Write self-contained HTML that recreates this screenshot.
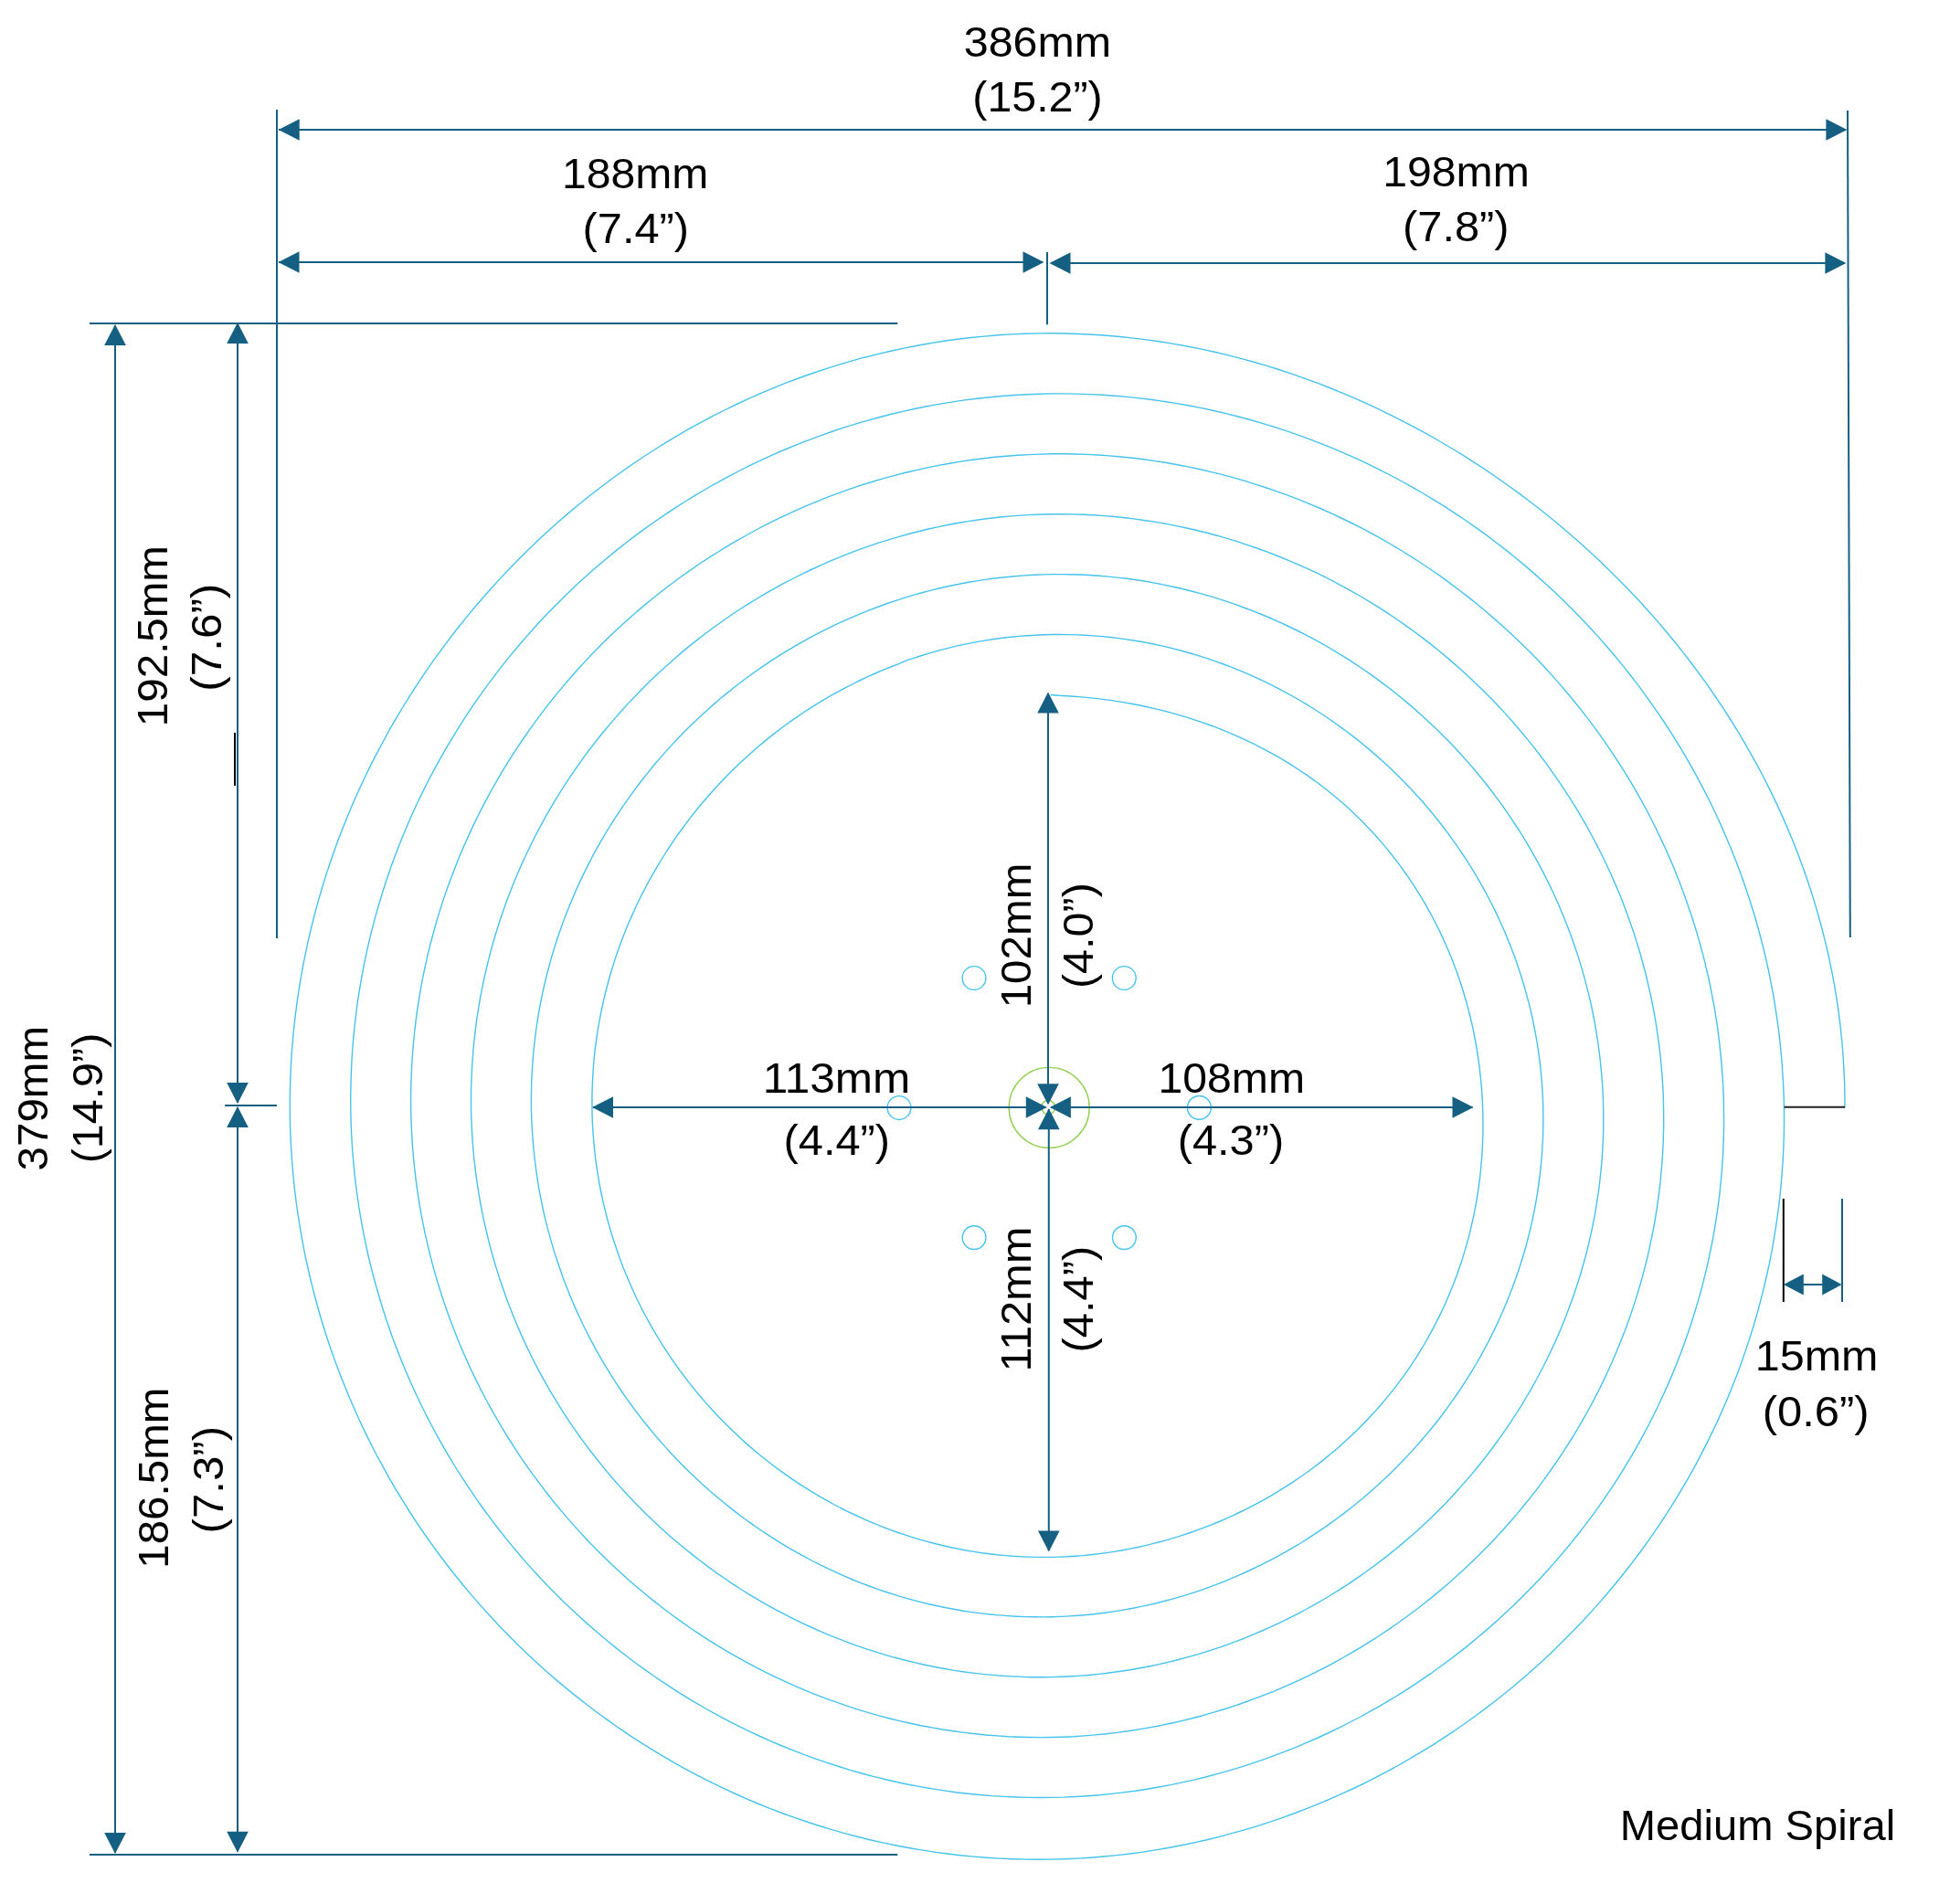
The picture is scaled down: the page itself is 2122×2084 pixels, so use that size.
<!DOCTYPE html>
<html><head><meta charset="utf-8"><title>Medium Spiral</title>
<style>
html,body{margin:0;padding:0;background:#fff;}
body{width:2122px;height:2084px;overflow:hidden;}
svg{display:block;will-change:transform;}
text{font-family:"Liberation Sans",sans-serif;fill:#000;}
</style></head><body>
<svg width="2122" height="2084" viewBox="0 0 2122 2084">
<rect width="2122" height="2084" fill="#fff"/>
<path d="M 1149.6 760.5 L 1159.3 761.3 L 1167.3 761.7 L 1175.2 762.2 L 1183.1 762.9 L 1191.0 763.6 L 1198.8 764.4 L 1206.7 765.4 L 1214.6 766.4 L 1222.4 767.6 L 1230.2 768.9 L 1238.0 770.2 L 1245.8 771.7 L 1253.5 773.3 L 1261.3 775.1 L 1269.0 776.9 L 1276.7 778.8 L 1284.3 780.9 L 1292.0 783.1 L 1299.6 785.4 L 1307.1 787.8 L 1314.7 790.3 L 1322.2 793.0 L 1329.6 795.7 L 1337.1 798.6 L 1344.4 801.7 L 1351.8 804.8 L 1359.1 808.1 L 1366.3 811.4 L 1373.5 814.9 L 1380.6 818.6 L 1387.7 822.3 L 1394.7 826.2 L 1401.7 830.2 L 1408.6 834.3 L 1415.4 838.6 L 1422.1 843.0 L 1428.8 847.4 L 1435.4 852.1 L 1441.9 856.8 L 1448.3 861.7 L 1454.7 866.7 L 1460.9 871.8 L 1467.1 877.0 L 1473.2 882.3 L 1479.1 887.8 L 1485.0 893.4 L 1490.8 899.1 L 1496.4 904.9 L 1501.9 910.8 L 1507.4 916.8 L 1512.7 922.9 L 1517.9 929.1 L 1523.0 935.5 L 1528.0 941.9 L 1532.9 948.4 L 1537.6 955.0 L 1542.3 961.7 L 1546.8 968.4 L 1551.2 975.3 L 1555.4 982.2 L 1559.6 989.2 L 1563.6 996.3 L 1567.5 1003.5 L 1571.2 1010.7 L 1574.9 1018.0 L 1578.4 1025.4 L 1581.7 1032.8 L 1585.0 1040.3 L 1588.1 1047.8 L 1591.1 1055.4 L 1594.0 1063.1 L 1596.7 1070.8 L 1599.3 1078.5 L 1601.7 1086.3 L 1604.0 1094.2 L 1606.2 1102.1 L 1608.3 1110.0 L 1610.2 1118.0 L 1612.0 1125.9 L 1613.6 1134.0 L 1615.1 1142.0 L 1616.5 1150.1 L 1617.7 1158.2 L 1618.9 1166.3 L 1619.8 1174.5 L 1620.7 1182.7 L 1621.4 1190.9 L 1622.0 1199.1 L 1622.4 1207.3 L 1622.7 1215.5 L 1622.9 1223.7 L 1622.9 1232.0 L 1622.9 1240.2 L 1622.6 1248.5 L 1622.3 1256.7 L 1621.8 1264.9 L 1621.1 1273.2 L 1620.4 1281.4 L 1619.5 1289.6 L 1618.4 1297.9 L 1617.2 1306.1 L 1615.9 1314.3 L 1614.4 1322.4 L 1612.8 1330.6 L 1611.0 1338.7 L 1609.1 1346.8 L 1607.1 1354.9 L 1604.9 1362.9 L 1602.5 1370.9 L 1600.1 1378.9 L 1597.4 1386.8 L 1594.7 1394.7 L 1591.8 1402.5 L 1588.7 1410.3 L 1585.5 1418.0 L 1582.2 1425.7 L 1578.7 1433.3 L 1575.1 1440.9 L 1571.3 1448.4 L 1567.4 1455.8 L 1563.4 1463.2 L 1559.2 1470.5 L 1554.9 1477.7 L 1550.5 1484.9 L 1545.9 1491.9 L 1541.2 1498.9 L 1536.3 1505.8 L 1531.3 1512.6 L 1526.2 1519.3 L 1521.0 1525.9 L 1515.6 1532.4 L 1510.2 1538.8 L 1504.6 1545.1 L 1498.8 1551.3 L 1493.0 1557.4 L 1487.1 1563.4 L 1481.0 1569.3 L 1474.9 1575.1 L 1468.6 1580.8 L 1462.3 1586.4 L 1455.8 1591.8 L 1449.2 1597.1 L 1442.6 1602.4 L 1435.8 1607.5 L 1429.0 1612.5 L 1422.1 1617.3 L 1415.1 1622.1 L 1408.0 1626.7 L 1400.8 1631.2 L 1393.6 1635.6 L 1386.3 1639.8 L 1378.9 1643.9 L 1371.4 1647.9 L 1363.8 1651.8 L 1356.2 1655.5 L 1348.6 1659.2 L 1340.8 1662.6 L 1333.0 1666.0 L 1325.2 1669.2 L 1317.3 1672.2 L 1309.3 1675.2 L 1301.3 1678.0 L 1293.2 1680.7 L 1285.1 1683.2 L 1277.0 1685.6 L 1268.8 1687.8 L 1260.6 1689.9 L 1252.3 1691.9 L 1244.0 1693.7 L 1235.7 1695.4 L 1227.3 1697.0 L 1218.9 1698.4 L 1210.5 1699.6 L 1202.0 1700.8 L 1193.6 1701.7 L 1185.1 1702.6 L 1176.6 1703.2 L 1168.1 1703.8 L 1159.6 1704.1 L 1151.1 1704.4 L 1142.5 1704.4 L 1134.0 1704.4 L 1125.5 1704.1 L 1116.9 1703.8 L 1108.4 1703.3 L 1099.9 1702.6 L 1091.4 1701.8 L 1082.9 1700.8 L 1074.4 1699.7 L 1065.9 1698.4 L 1057.5 1697.0 L 1049.1 1695.4 L 1040.7 1693.7 L 1032.4 1691.8 L 1024.0 1689.8 L 1015.8 1687.6 L 1007.5 1685.3 L 999.3 1682.8 L 991.1 1680.2 L 983.0 1677.5 L 974.9 1674.6 L 966.9 1671.6 L 958.9 1668.4 L 951.0 1665.1 L 943.2 1661.6 L 935.4 1658.0 L 927.6 1654.3 L 919.9 1650.5 L 912.3 1646.5 L 904.8 1642.3 L 897.3 1638.1 L 889.9 1633.7 L 882.6 1629.2 L 875.4 1624.6 L 868.2 1619.8 L 861.1 1614.9 L 854.1 1609.9 L 847.2 1604.8 L 840.4 1599.5 L 833.6 1594.2 L 827.0 1588.7 L 820.4 1583.1 L 813.9 1577.4 L 807.6 1571.5 L 801.3 1565.6 L 795.1 1559.6 L 789.1 1553.4 L 783.1 1547.2 L 777.3 1540.8 L 771.5 1534.4 L 765.9 1527.8 L 760.3 1521.1 L 754.9 1514.4 L 749.6 1507.5 L 744.4 1500.6 L 739.4 1493.6 L 734.4 1486.4 L 729.6 1479.2 L 724.9 1471.9 L 720.4 1464.6 L 715.9 1457.1 L 711.6 1449.6 L 707.4 1442.0 L 703.3 1434.3 L 699.4 1426.5 L 695.6 1418.7 L 692.0 1410.8 L 688.5 1402.8 L 685.1 1394.8 L 681.8 1386.7 L 678.7 1378.5 L 675.8 1370.3 L 673.0 1362.1 L 670.3 1353.8 L 667.8 1345.4 L 665.4 1337.0 L 663.2 1328.5 L 661.1 1320.1 L 659.2 1311.5 L 657.4 1303.0 L 655.7 1294.4 L 654.3 1285.7 L 652.9 1277.1 L 651.8 1268.4 L 650.8 1259.7 L 649.9 1250.9 L 649.2 1242.2 L 648.6 1233.4 L 648.2 1224.7 L 648.0 1215.9 L 647.9 1207.1 L 648.0 1198.3 L 648.2 1189.5 L 648.6 1180.7 L 649.1 1172.0 L 649.8 1163.2 L 650.6 1154.4 L 651.6 1145.7 L 652.8 1136.9 L 654.1 1128.2 L 655.6 1119.5 L 657.2 1110.9 L 659.0 1102.2 L 660.9 1093.6 L 662.9 1085.0 L 665.2 1076.5 L 667.5 1068.0 L 670.1 1059.5 L 672.7 1051.1 L 675.5 1042.7 L 678.5 1034.4 L 681.6 1026.1 L 684.8 1017.9 L 688.2 1009.7 L 691.8 1001.6 L 695.4 993.5 L 699.2 985.5 L 703.2 977.6 L 707.3 969.7 L 711.5 961.9 L 715.9 954.2 L 720.4 946.6 L 725.0 939.0 L 729.7 931.5 L 734.6 924.1 L 739.6 916.7 L 744.8 909.5 L 750.0 902.3 L 755.4 895.2 L 760.9 888.2 L 766.5 881.3 L 772.3 874.5 L 778.2 867.8 L 784.1 861.2 L 790.2 854.7 L 796.4 848.3 L 802.8 842.0 L 809.2 835.8 L 815.7 829.7 L 822.4 823.7 L 829.1 817.8 L 836.0 812.1 L 842.9 806.4 L 850.0 800.9 L 857.1 795.5 L 864.3 790.2 L 871.7 785.1 L 879.1 780.0 L 886.6 775.1 L 894.2 770.4 L 901.9 765.7 L 909.7 761.2 L 917.6 756.8 L 925.5 752.6 L 933.5 748.5 L 941.6 744.5 L 949.7 740.7 L 958.0 737.0 L 966.3 733.4 L 974.6 730.0 L 983.1 726.8 L 991.4 723.2 L 999.9 720.3 L 1008.6 717.5 L 1017.2 714.9 L 1025.9 712.4 L 1034.7 710.1 L 1043.5 707.9 L 1052.3 705.9 L 1061.2 704.1 L 1070.1 702.4 L 1079.1 700.9 L 1088.1 699.5 L 1097.1 698.3 L 1106.1 697.3 L 1115.1 696.4 L 1124.2 695.7 L 1133.3 695.2 L 1142.4 694.8 L 1151.4 694.5 L 1160.5 694.5 L 1169.6 694.6 L 1178.7 694.9 L 1187.8 695.3 L 1196.9 695.9 L 1206.0 696.6 L 1215.1 697.5 L 1224.1 698.6 L 1233.1 699.9 L 1242.1 701.2 L 1251.1 702.8 L 1260.1 704.5 L 1269.0 706.4 L 1277.9 708.4 L 1286.8 710.6 L 1295.6 713.0 L 1304.4 715.5 L 1313.1 718.1 L 1321.8 720.9 L 1330.4 723.9 L 1339.0 727.0 L 1347.5 730.2 L 1356.0 733.6 L 1364.4 737.2 L 1372.8 740.9 L 1381.1 744.7 L 1389.3 748.7 L 1397.5 752.8 L 1405.6 757.1 L 1413.6 761.5 L 1421.5 766.0 L 1429.4 770.7 L 1437.2 775.5 L 1444.9 780.5 L 1452.5 785.5 L 1460.1 790.7 L 1467.5 796.1 L 1474.9 801.5 L 1482.2 807.1 L 1489.4 812.8 L 1496.5 818.6 L 1503.4 824.6 L 1510.3 830.6 L 1517.1 836.8 L 1523.8 843.1 L 1530.4 849.5 L 1536.9 856.0 L 1543.3 862.7 L 1549.5 869.4 L 1555.7 876.3 L 1561.7 883.2 L 1567.6 890.3 L 1573.4 897.5 L 1579.1 904.7 L 1584.7 912.1 L 1590.1 919.6 L 1595.4 927.1 L 1600.6 934.8 L 1605.7 942.5 L 1610.6 950.3 L 1615.4 958.3 L 1620.1 966.3 L 1624.6 974.4 L 1628.9 982.5 L 1633.2 990.8 L 1637.3 999.1 L 1641.2 1007.5 L 1645.0 1016.0 L 1648.7 1024.6 L 1652.2 1033.2 L 1655.6 1041.9 L 1658.8 1050.6 L 1661.8 1059.4 L 1664.7 1068.3 L 1667.4 1077.2 L 1670.0 1086.1 L 1672.4 1095.2 L 1674.7 1104.2 L 1676.8 1113.3 L 1678.7 1122.5 L 1680.5 1131.7 L 1682.1 1140.9 L 1683.5 1150.1 L 1684.8 1159.4 L 1685.9 1168.7 L 1686.8 1178.0 L 1687.6 1187.4 L 1688.1 1196.7 L 1688.6 1206.1 L 1688.8 1215.5 L 1688.9 1224.8 L 1688.8 1234.2 L 1688.6 1243.6 L 1688.1 1253.0 L 1687.5 1262.4 L 1686.8 1271.7 L 1685.8 1281.1 L 1684.7 1290.4 L 1683.4 1299.8 L 1682.0 1309.1 L 1680.4 1318.3 L 1678.6 1327.6 L 1676.7 1336.8 L 1674.6 1346.0 L 1672.3 1355.1 L 1669.9 1364.2 L 1667.3 1373.2 L 1664.5 1382.3 L 1661.6 1391.2 L 1658.5 1400.1 L 1655.3 1409.0 L 1651.9 1417.8 L 1648.4 1426.5 L 1644.7 1435.2 L 1640.9 1443.8 L 1636.9 1452.4 L 1632.7 1460.9 L 1628.5 1469.3 L 1624.0 1477.6 L 1619.5 1485.9 L 1614.8 1494.0 L 1609.9 1502.2 L 1604.9 1510.2 L 1599.8 1518.1 L 1594.5 1526.0 L 1589.1 1533.7 L 1583.6 1541.4 L 1578.0 1549.0 L 1572.2 1556.5 L 1566.3 1563.8 L 1560.2 1571.1 L 1554.1 1578.3 L 1547.8 1585.4 L 1541.4 1592.4 L 1534.9 1599.3 L 1528.2 1606.0 L 1521.5 1612.7 L 1514.6 1619.3 L 1507.6 1625.7 L 1500.6 1632.0 L 1493.4 1638.2 L 1486.1 1644.3 L 1478.7 1650.3 L 1471.2 1656.1 L 1463.6 1661.8 L 1455.9 1667.4 L 1448.1 1672.9 L 1440.2 1678.2 L 1432.2 1683.4 L 1424.1 1688.5 L 1415.9 1693.4 L 1407.7 1698.2 L 1399.3 1702.8 L 1390.9 1707.3 L 1382.4 1711.7 L 1373.8 1715.9 L 1365.2 1720.0 L 1356.4 1723.9 L 1347.6 1727.7 L 1338.8 1731.3 L 1329.8 1734.8 L 1320.8 1738.1 L 1311.8 1741.3 L 1302.6 1744.3 L 1293.5 1747.1 L 1284.2 1749.8 L 1274.9 1752.3 L 1265.6 1754.7 L 1256.2 1756.9 L 1246.8 1758.9 L 1237.4 1760.7 L 1227.9 1762.4 L 1218.4 1763.9 L 1208.8 1765.3 L 1199.2 1766.5 L 1189.6 1767.5 L 1180.0 1768.3 L 1170.4 1768.9 L 1160.7 1769.4 L 1151.0 1769.7 L 1141.4 1769.9 L 1131.7 1769.8 L 1122.0 1769.6 L 1112.3 1769.2 L 1102.7 1768.6 L 1093.0 1767.9 L 1083.3 1767.0 L 1073.7 1765.9 L 1064.1 1764.6 L 1054.5 1763.2 L 1044.9 1761.5 L 1035.4 1759.8 L 1025.9 1757.8 L 1016.4 1755.7 L 1007.0 1753.4 L 997.6 1750.9 L 988.2 1748.3 L 978.9 1745.4 L 969.7 1742.5 L 960.5 1739.3 L 951.3 1736.0 L 942.2 1732.6 L 933.2 1729.0 L 924.2 1725.2 L 915.3 1721.2 L 906.5 1717.1 L 897.8 1712.9 L 889.1 1708.5 L 880.5 1703.9 L 871.9 1699.2 L 863.5 1694.4 L 855.1 1689.4 L 846.9 1684.2 L 838.7 1678.9 L 830.6 1673.5 L 822.6 1667.9 L 814.7 1662.2 L 806.9 1656.4 L 799.2 1650.4 L 791.6 1644.3 L 784.1 1638.0 L 776.7 1631.7 L 769.4 1625.2 L 762.2 1618.5 L 755.1 1611.8 L 748.2 1604.9 L 741.3 1598.0 L 734.6 1590.8 L 728.0 1583.6 L 721.5 1576.3 L 715.2 1568.9 L 708.9 1561.3 L 702.8 1553.7 L 696.9 1545.9 L 691.0 1538.0 L 685.3 1530.1 L 679.7 1522.0 L 674.3 1513.8 L 669.0 1505.6 L 663.8 1497.2 L 658.8 1488.8 L 653.9 1480.3 L 649.2 1471.6 L 644.6 1462.9 L 640.2 1454.2 L 635.9 1445.3 L 631.7 1436.4 L 627.7 1427.4 L 623.9 1418.3 L 620.2 1409.1 L 616.7 1399.9 L 613.4 1390.6 L 610.2 1381.3 L 607.1 1371.9 L 604.3 1362.4 L 601.6 1352.9 L 599.0 1343.4 L 596.6 1333.8 L 594.4 1324.1 L 592.4 1314.4 L 590.5 1304.7 L 588.8 1294.9 L 587.3 1285.1 L 586.0 1275.3 L 584.8 1265.5 L 583.8 1255.6 L 583.0 1245.7 L 582.3 1235.8 L 581.8 1225.8 L 581.5 1215.9 L 581.4 1206.0 L 581.5 1196.0 L 581.7 1186.1 L 582.1 1176.1 L 582.7 1166.2 L 583.5 1156.2 L 584.4 1146.3 L 585.5 1136.4 L 586.8 1126.5 L 588.3 1116.6 L 589.9 1106.8 L 591.7 1097.0 L 593.7 1087.2 L 595.9 1077.4 L 598.2 1067.7 L 600.8 1058.0 L 603.4 1048.4 L 606.3 1038.8 L 609.3 1029.3 L 612.5 1019.8 L 615.8 1010.4 L 619.4 1001.0 L 623.1 991.7 L 626.9 982.4 L 630.9 973.2 L 635.1 964.1 L 639.4 955.1 L 643.9 946.1 L 648.5 937.2 L 653.3 928.4 L 658.3 919.6 L 663.4 911.0 L 668.7 902.4 L 674.1 893.9 L 679.6 885.6 L 685.3 877.3 L 691.2 869.1 L 697.1 861.0 L 703.3 853.0 L 709.5 845.1 L 715.9 837.3 L 722.4 829.6 L 729.1 822.1 L 735.9 814.6 L 742.8 807.3 L 749.9 800.1 L 757.1 793.0 L 764.4 786.0 L 771.8 779.2 L 779.3 772.4 L 787.0 765.8 L 794.8 759.4 L 802.7 753.0 L 810.7 746.8 L 818.8 740.8 L 827.0 734.8 L 835.3 729.1 L 843.7 723.4 L 852.3 717.9 L 860.9 712.6 L 869.6 707.4 L 878.4 702.3 L 887.3 697.4 L 896.3 692.7 L 905.4 688.1 L 914.5 683.7 L 923.8 679.4 L 933.1 675.3 L 942.5 671.4 L 951.9 667.6 L 961.5 664.0 L 971.0 660.5 L 980.7 657.3 L 990.4 654.2 L 1000.2 651.2 L 1010.0 648.5 L 1019.9 645.9 L 1029.8 643.5 L 1039.8 641.3 L 1049.8 639.2 L 1059.9 637.3 L 1069.9 635.6 L 1080.1 634.1 L 1090.2 632.8 L 1100.4 631.7 L 1110.6 630.7 L 1120.8 629.9 L 1131.0 629.3 L 1141.2 628.9 L 1151.5 628.6 L 1161.7 628.6 L 1172.0 628.7 L 1182.2 629.0 L 1192.5 629.5 L 1202.7 630.2 L 1212.9 631.1 L 1223.1 632.1 L 1233.3 633.3 L 1243.5 634.8 L 1253.6 636.3 L 1263.7 638.1 L 1273.8 640.1 L 1283.9 642.2 L 1293.9 644.5 L 1303.8 647.0 L 1313.8 649.6 L 1323.6 652.4 L 1333.5 655.4 L 1343.3 658.6 L 1353.0 661.9 L 1362.6 665.5 L 1372.2 669.1 L 1381.8 673.0 L 1391.3 677.0 L 1400.7 681.2 L 1410.0 685.5 L 1419.3 690.0 L 1428.4 694.6 L 1437.5 699.4 L 1446.6 704.4 L 1455.5 709.5 L 1464.3 714.8 L 1473.1 720.2 L 1481.8 725.8 L 1490.4 731.5 L 1498.8 737.4 L 1507.2 743.4 L 1515.5 749.6 L 1523.7 755.8 L 1531.7 762.3 L 1539.7 768.9 L 1547.6 775.6 L 1555.3 782.4 L 1562.9 789.4 L 1570.5 796.5 L 1577.8 803.7 L 1585.1 811.1 L 1592.3 818.6 L 1599.3 826.2 L 1606.2 833.9 L 1613.0 841.7 L 1619.6 849.7 L 1626.1 857.8 L 1632.5 866.0 L 1638.7 874.3 L 1644.8 882.7 L 1650.7 891.2 L 1656.5 899.8 L 1662.2 908.5 L 1667.7 917.4 L 1673.1 926.3 L 1678.3 935.3 L 1683.3 944.4 L 1688.2 953.6 L 1692.9 962.9 L 1697.5 972.3 L 1701.9 981.8 L 1706.2 991.3 L 1710.2 1000.9 L 1714.1 1010.6 L 1717.9 1020.4 L 1721.4 1030.2 L 1724.8 1040.1 L 1728.1 1050.1 L 1731.1 1060.1 L 1734.0 1070.2 L 1736.6 1080.3 L 1739.2 1090.5 L 1741.5 1100.7 L 1743.6 1111.0 L 1745.6 1121.3 L 1747.3 1131.7 L 1748.9 1142.1 L 1750.3 1152.5 L 1751.5 1162.9 L 1752.5 1173.4 L 1753.4 1183.9 L 1754.0 1194.4 L 1754.5 1204.9 L 1754.7 1215.4 L 1754.8 1226.0 L 1754.7 1236.5 L 1754.4 1247.0 L 1753.9 1257.6 L 1753.2 1268.1 L 1752.3 1278.6 L 1751.2 1289.1 L 1750.0 1299.6 L 1748.5 1310.0 L 1746.9 1320.5 L 1745.1 1330.9 L 1743.1 1341.2 L 1740.9 1351.6 L 1738.5 1361.9 L 1736.0 1372.1 L 1733.2 1382.3 L 1730.3 1392.5 L 1727.2 1402.6 L 1723.9 1412.7 L 1720.5 1422.6 L 1716.8 1432.6 L 1713.0 1442.5 L 1709.1 1452.3 L 1704.9 1462.0 L 1700.6 1471.7 L 1696.1 1481.2 L 1691.5 1490.8 L 1686.6 1500.2 L 1681.7 1509.5 L 1676.5 1518.8 L 1671.2 1528.0 L 1665.8 1537.1 L 1660.2 1546.0 L 1654.4 1554.9 L 1648.5 1563.7 L 1642.4 1572.4 L 1636.2 1581.0 L 1629.9 1589.5 L 1623.4 1597.9 L 1616.7 1606.2 L 1609.9 1614.4 L 1603.0 1622.4 L 1596.0 1630.3 L 1588.8 1638.2 L 1581.5 1645.9 L 1574.0 1653.4 L 1566.4 1660.9 L 1558.7 1668.2 L 1550.9 1675.4 L 1542.9 1682.5 L 1534.8 1689.4 L 1526.6 1696.2 L 1518.3 1702.9 L 1509.9 1709.4 L 1501.3 1715.8 L 1492.7 1722.0 L 1483.9 1728.1 L 1475.1 1734.1 L 1466.1 1739.9 L 1457.0 1745.5 L 1447.9 1751.0 L 1438.6 1756.4 L 1429.2 1761.5 L 1419.8 1766.6 L 1410.2 1771.4 L 1400.6 1776.1 L 1390.9 1780.7 L 1381.1 1785.0 L 1371.2 1789.2 L 1361.3 1793.3 L 1351.3 1797.1 L 1341.2 1800.8 L 1331.0 1804.3 L 1320.8 1807.6 L 1310.5 1810.8 L 1300.2 1813.7 L 1289.8 1816.5 L 1279.3 1819.1 L 1268.8 1821.6 L 1258.2 1823.8 L 1247.7 1825.8 L 1237.0 1827.7 L 1226.4 1829.3 L 1215.7 1830.8 L 1204.9 1832.1 L 1194.2 1833.2 L 1183.4 1834.1 L 1172.6 1834.8 L 1161.8 1835.3 L 1151.0 1835.6 L 1140.2 1835.7 L 1129.4 1835.7 L 1118.5 1835.4 L 1107.7 1834.9 L 1096.9 1834.3 L 1086.1 1833.4 L 1075.3 1832.4 L 1064.5 1831.1 L 1053.8 1829.7 L 1043.0 1828.1 L 1032.3 1826.2 L 1021.7 1824.2 L 1011.0 1822.0 L 1000.4 1819.6 L 989.9 1817.0 L 979.4 1814.3 L 968.9 1811.3 L 958.5 1808.1 L 948.2 1804.8 L 937.9 1801.3 L 927.7 1797.6 L 917.5 1793.7 L 907.4 1789.6 L 897.4 1785.4 L 887.5 1781.0 L 877.6 1776.4 L 867.8 1771.6 L 858.1 1766.7 L 848.5 1761.6 L 839.0 1756.3 L 829.5 1750.9 L 820.2 1745.3 L 810.9 1739.5 L 801.8 1733.6 L 792.8 1727.5 L 783.8 1721.3 L 775.0 1714.9 L 766.3 1708.3 L 757.7 1701.6 L 749.2 1694.8 L 740.8 1687.8 L 732.5 1680.7 L 724.4 1673.4 L 716.4 1666.0 L 708.5 1658.4 L 700.7 1650.7 L 693.1 1642.9 L 685.6 1635.0 L 678.2 1626.9 L 671.0 1618.7 L 663.9 1610.4 L 657.0 1601.9 L 650.2 1593.3 L 643.5 1584.7 L 637.0 1575.8 L 630.6 1566.9 L 624.4 1557.9 L 618.4 1548.8 L 612.5 1539.5 L 606.7 1530.2 L 601.1 1520.8 L 595.7 1511.2 L 590.4 1501.6 L 585.3 1491.9 L 580.4 1482.0 L 575.6 1472.1 L 571.0 1462.1 L 566.6 1452.1 L 562.4 1441.9 L 558.3 1431.7 L 554.4 1421.4 L 550.7 1411.0 L 547.1 1400.6 L 543.8 1390.1 L 540.6 1379.5 L 537.6 1368.9 L 534.8 1358.2 L 532.2 1347.5 L 529.7 1336.7 L 527.5 1325.9 L 525.4 1315.0 L 523.6 1304.1 L 521.9 1293.2 L 520.4 1282.2 L 519.1 1271.2 L 518.0 1260.2 L 517.2 1249.2 L 516.5 1238.1 L 515.9 1227.0 L 515.6 1215.9 L 515.5 1204.8 L 515.6 1193.7 L 515.9 1182.6 L 516.4 1171.5 L 517.1 1160.5 L 517.9 1149.4 L 519.0 1138.3 L 520.3 1127.3 L 521.7 1116.2 L 523.4 1105.2 L 525.2 1094.2 L 527.3 1083.3 L 529.5 1072.4 L 532.0 1061.5 L 534.6 1050.7 L 537.4 1039.9 L 540.4 1029.2 L 543.6 1018.5 L 547.0 1007.8 L 550.6 997.3 L 554.3 986.8 L 558.3 976.3 L 562.4 965.9 L 566.7 955.6 L 571.2 945.4 L 575.9 935.2 L 580.7 925.2 L 585.7 915.2 L 590.9 905.3 L 596.3 895.4 L 601.8 885.7 L 607.5 876.1 L 613.4 866.5 L 619.4 857.1 L 625.6 847.8 L 632.0 838.6 L 638.5 829.4 L 645.2 820.4 L 652.1 811.5 L 659.0 802.8 L 666.2 794.1 L 673.5 785.6 L 680.9 777.2 L 688.5 768.9 L 696.3 760.7 L 704.1 752.7 L 712.1 744.8 L 720.3 737.0 L 728.6 729.4 L 737.0 722.0 L 745.5 714.6 L 754.2 707.4 L 763.0 700.4 L 771.9 693.5 L 781.0 686.8 L 790.2 680.2 L 799.4 673.8 L 808.8 667.5 L 818.3 661.4 L 828.0 655.5 L 837.7 649.7 L 847.5 644.1 L 857.4 638.7 L 867.4 633.5 L 877.5 628.4 L 887.7 623.5 L 898.0 618.8 L 908.4 614.2 L 918.9 609.8 L 929.4 605.7 L 940.0 601.7 L 950.7 597.9 L 961.5 594.2 L 972.3 590.8 L 983.2 587.6 L 994.1 584.5 L 1005.1 581.7 L 1016.1 579.0 L 1027.2 576.6 L 1038.4 574.3 L 1049.6 572.2 L 1060.8 570.4 L 1072.0 568.7 L 1083.3 567.3 L 1094.6 566.0 L 1106.0 564.9 L 1117.3 564.1 L 1128.7 563.4 L 1140.1 563.0 L 1151.5 562.7 L 1162.9 562.7 L 1174.3 562.9 L 1185.7 563.2 L 1197.1 563.8 L 1208.5 564.6 L 1219.8 565.5 L 1231.2 566.7 L 1242.5 568.1 L 1253.8 569.7 L 1265.1 571.4 L 1276.3 573.4 L 1287.5 575.6 L 1298.7 578.0 L 1309.8 580.5 L 1320.9 583.3 L 1332.0 586.2 L 1342.9 589.4 L 1353.9 592.7 L 1364.7 596.3 L 1375.5 600.0 L 1386.3 603.9 L 1397.0 608.0 L 1407.6 612.3 L 1418.1 616.8 L 1428.5 621.4 L 1438.9 626.2 L 1449.2 631.2 L 1459.4 636.4 L 1469.5 641.8 L 1479.5 647.3 L 1489.5 653.0 L 1499.3 658.9 L 1509.0 664.9 L 1518.7 671.1 L 1528.2 677.5 L 1537.6 684.1 L 1546.9 690.8 L 1556.1 697.6 L 1565.2 704.6 L 1574.1 711.8 L 1583.0 719.1 L 1591.7 726.6 L 1600.3 734.2 L 1608.7 741.9 L 1617.1 749.9 L 1625.3 757.9 L 1633.3 766.1 L 1641.3 774.4 L 1649.1 782.9 L 1656.7 791.5 L 1664.2 800.2 L 1671.5 809.1 L 1678.8 818.1 L 1685.8 827.2 L 1692.7 836.4 L 1699.4 845.8 L 1706.0 855.3 L 1712.4 864.9 L 1718.7 874.6 L 1724.8 884.4 L 1730.7 894.3 L 1736.5 904.4 L 1742.0 914.5 L 1747.4 924.7 L 1752.7 935.0 L 1757.7 945.5 L 1762.6 956.0 L 1767.3 966.6 L 1771.8 977.3 L 1776.1 988.0 L 1780.2 998.9 L 1784.1 1009.8 L 1787.9 1020.8 L 1791.4 1031.9 L 1794.8 1043.0 L 1797.9 1054.2 L 1800.9 1065.5 L 1803.6 1076.8 L 1806.2 1088.1 L 1808.5 1099.5 L 1810.7 1111.0 L 1812.6 1122.5 L 1814.3 1134.0 L 1815.9 1145.6 L 1817.2 1157.2 L 1818.3 1168.8 L 1819.2 1180.4 L 1819.9 1192.1 L 1820.4 1203.7 L 1820.6 1215.4 L 1820.7 1227.1 L 1820.5 1238.8 L 1820.2 1250.5 L 1819.6 1262.1 L 1818.8 1273.8 L 1817.8 1285.5 L 1816.7 1297.1 L 1815.2 1308.7 L 1813.6 1320.3 L 1811.8 1331.9 L 1809.8 1343.4 L 1807.5 1354.9 L 1805.1 1366.4 L 1802.5 1377.8 L 1799.6 1389.2 L 1796.6 1400.5 L 1793.3 1411.7 L 1789.9 1422.9 L 1786.2 1434.1 L 1782.4 1445.2 L 1778.4 1456.2 L 1774.1 1467.1 L 1769.7 1478.0 L 1765.1 1488.8 L 1760.3 1499.5 L 1755.3 1510.1 L 1750.2 1520.7 L 1744.8 1531.1 L 1739.3 1541.5 L 1733.6 1551.7 L 1727.7 1561.9 L 1721.7 1572.0 L 1715.4 1581.9 L 1709.0 1591.8 L 1702.5 1601.5 L 1695.7 1611.2 L 1688.9 1620.7 L 1681.8 1630.1 L 1674.6 1639.4 L 1667.2 1648.5 L 1659.7 1657.6 L 1652.0 1666.5 L 1644.2 1675.3 L 1636.2 1683.9 L 1628.0 1692.4 L 1619.8 1700.8 L 1611.3 1709.1 L 1602.8 1717.2 L 1594.1 1725.1 L 1585.3 1733.0 L 1576.3 1740.6 L 1567.2 1748.1 L 1558.0 1755.5 L 1548.6 1762.7 L 1539.1 1769.8 L 1529.5 1776.7 L 1519.8 1783.4 L 1510.0 1790.0 L 1500.0 1796.4 L 1490.0 1802.6 L 1479.8 1808.7 L 1469.5 1814.5 L 1459.1 1820.3 L 1448.7 1825.8 L 1438.1 1831.2 L 1427.4 1836.3 L 1416.6 1841.3 L 1405.8 1846.1 L 1394.8 1850.8 L 1383.8 1855.2 L 1372.7 1859.4 L 1361.5 1863.5 L 1350.3 1867.3 L 1338.9 1871.0 L 1327.5 1874.4 L 1316.1 1877.7 L 1304.6 1880.7 L 1293.0 1883.6 L 1281.3 1886.2 L 1269.7 1888.7 L 1257.9 1890.9 L 1246.2 1892.9 L 1234.4 1894.8 L 1222.5 1896.4 L 1210.7 1897.8 L 1198.8 1898.9 L 1186.8 1899.9 L 1174.9 1900.7 L 1162.9 1901.2 L 1151.0 1901.5 L 1139.0 1901.6 L 1127.0 1901.5 L 1115.1 1901.2 L 1103.1 1900.7 L 1091.1 1899.9 L 1079.2 1899.0 L 1067.2 1897.8 L 1055.3 1896.4 L 1043.4 1894.8 L 1031.6 1893.0 L 1019.7 1890.9 L 1007.9 1888.7 L 996.2 1886.2 L 984.5 1883.6 L 972.8 1880.7 L 961.2 1877.6 L 949.6 1874.3 L 938.1 1870.8 L 926.7 1867.1 L 915.3 1863.2 L 904.0 1859.1 L 892.8 1854.8 L 881.7 1850.3 L 870.6 1845.6 L 859.6 1840.7 L 848.7 1835.6 L 837.9 1830.3 L 827.1 1824.9 L 816.5 1819.2 L 806.0 1813.4 L 795.6 1807.4 L 785.2 1801.2 L 775.0 1794.8 L 764.9 1788.2 L 754.9 1781.5 L 745.1 1774.6 L 735.3 1767.5 L 725.7 1760.3 L 716.2 1752.9 L 706.8 1745.3 L 697.5 1737.5 L 688.4 1729.7 L 679.4 1721.6 L 670.6 1713.4 L 661.9 1705.0 L 653.3 1696.5 L 644.9 1687.9 L 636.6 1679.1 L 628.5 1670.1 L 620.5 1661.1 L 612.7 1651.9 L 605.0 1642.5 L 597.5 1633.0 L 590.2 1623.4 L 583.0 1613.7 L 576.0 1603.8 L 569.1 1593.8 L 562.5 1583.7 L 556.0 1573.5 L 549.6 1563.2 L 543.5 1552.7 L 537.5 1542.2 L 531.7 1531.5 L 526.1 1520.8 L 520.7 1509.9 L 515.4 1499.0 L 510.4 1487.9 L 505.5 1476.8 L 500.8 1465.6 L 496.4 1454.3 L 492.1 1442.9 L 488.0 1431.4 L 484.1 1419.9 L 480.4 1408.3 L 476.9 1396.6 L 473.6 1384.9 L 470.6 1373.1 L 467.7 1361.2 L 465.0 1349.3 L 462.6 1337.4 L 460.3 1325.4 L 458.3 1313.3 L 456.5 1301.3 L 454.9 1289.1 L 453.5 1277.0 L 452.3 1264.8 L 451.3 1252.6 L 450.6 1240.4 L 450.1 1228.2 L 449.7 1216.0 L 449.6 1203.7 L 449.7 1191.5 L 450.1 1179.2 L 450.6 1167.0 L 451.4 1154.7 L 452.4 1142.5 L 453.6 1130.3 L 455.0 1118.1 L 456.6 1105.9 L 458.5 1093.8 L 460.5 1081.7 L 462.8 1069.6 L 465.3 1057.6 L 468.0 1045.6 L 470.9 1033.7 L 474.1 1021.8 L 477.4 1009.9 L 480.9 998.1 L 484.7 986.4 L 488.6 974.8 L 492.8 963.2 L 497.2 951.7 L 501.7 940.2 L 506.5 928.8 L 511.5 917.6 L 516.6 906.4 L 522.0 895.3 L 527.5 884.2 L 533.3 873.3 L 539.2 862.5 L 545.3 851.8 L 551.6 841.2 L 558.1 830.7 L 564.8 820.3 L 571.7 810.0 L 578.7 799.8 L 585.9 789.8 L 593.3 779.9 L 600.8 770.1 L 608.6 760.4 L 616.5 750.9 L 624.5 741.5 L 632.7 732.2 L 641.1 723.1 L 649.7 714.1 L 658.4 705.3 L 667.2 696.6 L 676.2 688.1 L 685.4 679.7 L 694.6 671.5 L 704.1 663.4 L 713.7 655.5 L 723.4 647.8 L 733.2 640.2 L 743.2 632.8 L 753.3 625.6 L 763.6 618.5 L 773.9 611.7 L 784.4 605.0 L 795.0 598.4 L 805.7 592.1 L 816.6 586.0 L 827.5 580.0 L 838.6 574.2 L 849.7 568.7 L 861.0 563.3 L 872.3 558.1 L 883.7 553.1 L 895.3 548.3 L 906.9 543.7 L 918.6 539.4 L 930.4 535.2 L 942.2 531.2 L 954.1 527.5 L 966.1 523.9 L 978.2 520.6 L 990.3 517.5 L 1002.5 514.6 L 1014.7 511.9 L 1027.0 509.4 L 1039.3 507.2 L 1051.6 505.1 L 1064.0 503.3 L 1076.5 501.7 L 1088.9 500.3 L 1101.4 499.2 L 1113.9 498.3 L 1126.4 497.6 L 1139.0 497.1 L 1151.5 496.8 L 1164.1 496.8 L 1176.6 497.0 L 1189.2 497.4 L 1201.7 498.0 L 1214.2 498.9 L 1226.7 500.0 L 1239.2 501.3 L 1251.7 502.8 L 1264.1 504.6 L 1276.6 506.5 L 1288.9 508.7 L 1301.3 511.1 L 1313.6 513.7 L 1325.8 516.6 L 1338.0 519.6 L 1350.1 522.9 L 1362.2 526.4 L 1374.3 530.1 L 1386.2 534.0 L 1398.1 538.1 L 1409.9 542.4 L 1421.7 546.9 L 1433.3 551.6 L 1444.9 556.5 L 1456.4 561.7 L 1467.8 567.0 L 1479.1 572.5 L 1490.4 578.2 L 1501.5 584.1 L 1512.5 590.2 L 1523.4 596.5 L 1534.2 603.0 L 1544.9 609.7 L 1555.5 616.5 L 1566.0 623.5 L 1576.4 630.7 L 1586.6 638.1 L 1596.7 645.7 L 1606.7 653.4 L 1616.5 661.3 L 1626.2 669.3 L 1635.8 677.6 L 1645.2 686.0 L 1654.5 694.5 L 1663.7 703.2 L 1672.7 712.1 L 1681.6 721.1 L 1690.3 730.3 L 1698.8 739.6 L 1707.2 749.1 L 1715.4 758.7 L 1723.5 768.5 L 1731.4 778.4 L 1739.1 788.4 L 1746.7 798.6 L 1754.1 808.9 L 1761.3 819.4 L 1768.3 829.9 L 1775.2 840.6 L 1781.9 851.4 L 1788.4 862.3 L 1794.7 873.4 L 1800.8 884.5 L 1806.7 895.8 L 1812.4 907.2 L 1817.9 918.6 L 1823.3 930.2 L 1828.4 941.9 L 1833.3 953.6 L 1838.0 965.5 L 1842.5 977.4 L 1846.8 989.4 L 1850.9 1001.5 L 1854.8 1013.7 L 1858.4 1025.9 L 1861.9 1038.2 L 1865.1 1050.6 L 1868.1 1063.0 L 1870.9 1075.5 L 1873.4 1088.1 L 1875.8 1100.6 L 1877.9 1113.3 L 1879.8 1125.9 L 1881.4 1138.6 L 1882.8 1151.4 L 1884.0 1164.1 L 1885.0 1176.9 L 1885.8 1189.7 L 1886.3 1202.6 L 1886.5 1215.4 L 1886.6 1228.2 L 1886.4 1241.1 L 1886.0 1253.9 L 1885.4 1266.7 L 1884.5 1279.5 L 1883.4 1292.3 L 1882.1 1305.1 L 1880.5 1317.9 L 1878.7 1330.6 L 1876.7 1343.3 L 1874.5 1356.0 L 1872.0 1368.6 L 1869.3 1381.2 L 1866.4 1393.7 L 1863.3 1406.2 L 1859.9 1418.6 L 1856.3 1431.0 L 1852.5 1443.3 L 1848.5 1455.5 L 1844.3 1467.7 L 1839.9 1479.8 L 1835.2 1491.8 L 1830.4 1503.7 L 1825.3 1515.6 L 1820.0 1527.3 L 1814.6 1539.0 L 1808.9 1550.5 L 1803.0 1562.0 L 1796.9 1573.4 L 1790.7 1584.7 L 1784.2 1595.8 L 1777.5 1606.9 L 1770.7 1617.8 L 1763.7 1628.6 L 1756.4 1639.3 L 1749.1 1649.9 L 1741.5 1660.3 L 1733.7 1670.6 L 1725.8 1680.8 L 1717.7 1690.9 L 1709.4 1700.8 L 1701.0 1710.6 L 1692.3 1720.2 L 1683.6 1729.7 L 1674.6 1739.0 L 1665.5 1748.2 L 1656.3 1757.3 L 1646.9 1766.1 L 1637.3 1774.9 L 1627.6 1783.4 L 1617.7 1791.8 L 1607.7 1800.1 L 1597.6 1808.1 L 1587.3 1816.0 L 1576.9 1823.7 L 1566.4 1831.3 L 1555.7 1838.6 L 1544.9 1845.8 L 1534.0 1852.8 L 1522.9 1859.7 L 1511.7 1866.3 L 1500.4 1872.7 L 1489.0 1879.0 L 1477.5 1885.0 L 1465.9 1890.9 L 1454.2 1896.5 L 1442.4 1902.0 L 1430.4 1907.2 L 1418.4 1912.3 L 1406.3 1917.1 L 1394.1 1921.7 L 1381.9 1926.1 L 1369.5 1930.3 L 1357.1 1934.3 L 1344.6 1938.1 L 1332.0 1941.6 L 1319.4 1945.0 L 1306.7 1948.1 L 1293.9 1950.9 L 1281.1 1953.6 L 1268.2 1956.0 L 1255.3 1958.2 L 1242.4 1960.2 L 1229.4 1961.9 L 1216.4 1963.4 L 1203.3 1964.7 L 1190.3 1965.7 L 1177.2 1966.5 L 1164.1 1967.1 L 1151.0 1967.4 L 1137.8 1967.5 L 1124.7 1967.4 L 1111.6 1967.0 L 1098.5 1966.4 L 1085.3 1965.6 L 1072.3 1964.5 L 1059.2 1963.2 L 1046.1 1961.7 L 1033.1 1959.9 L 1020.1 1957.9 L 1007.1 1955.6 L 994.2 1953.2 L 981.3 1950.5 L 968.5 1947.5 L 955.7 1944.4 L 943.0 1941.0 L 930.3 1937.4 L 917.8 1933.5 L 905.2 1929.4 L 892.8 1925.2 L 880.4 1920.7 L 868.1 1915.9 L 855.9 1911.0 L 843.8 1905.8 L 831.7 1900.5 L 819.8 1894.9 L 807.9 1889.1 L 796.2 1883.1 L 784.5 1876.9 L 773.0 1870.5 L 761.6 1863.9 L 750.3 1857.1 L 739.1 1850.1 L 728.1 1842.9 L 717.1 1835.5 L 706.3 1827.9 L 695.6 1820.2 L 685.1 1812.2 L 674.7 1804.1 L 664.4 1795.8 L 654.3 1787.3 L 644.3 1778.6 L 634.5 1769.8 L 624.8 1760.8 L 615.3 1751.7 L 605.9 1742.3 L 596.7 1732.9 L 587.6 1723.2 L 578.7 1713.4 L 570.0 1703.5 L 561.5 1693.4 L 553.1 1683.1 L 544.9 1672.7 L 536.9 1662.2 L 529.0 1651.5 L 521.3 1640.7 L 513.9 1629.7 L 506.6 1618.7 L 499.5 1607.5 L 492.5 1596.1 L 485.8 1584.7 L 479.3 1573.1 L 473.0 1561.5 L 466.8 1549.7 L 460.9 1537.8 L 455.2 1525.8 L 449.7 1513.7 L 444.4 1501.5 L 439.3 1489.2 L 434.4 1476.8 L 429.7 1464.4 L 425.3 1451.8 L 421.1 1439.2 L 417.1 1426.5 L 413.3 1413.7 L 409.7 1400.8 L 406.3 1387.9 L 403.2 1375.0 L 400.3 1361.9 L 397.7 1348.8 L 395.2 1335.7 L 393.0 1322.5 L 391.1 1309.3 L 389.3 1296.1 L 387.8 1282.8 L 386.6 1269.5 L 385.5 1256.1 L 384.7 1242.8 L 384.2 1229.4 L 383.8 1216.0 L 383.7 1202.6 L 383.9 1189.2 L 384.3 1175.8 L 384.9 1162.4 L 385.7 1149.0 L 386.8 1135.6 L 388.2 1122.3 L 389.7 1109.0 L 391.5 1095.7 L 393.6 1082.4 L 395.9 1069.1 L 398.4 1055.9 L 401.1 1042.8 L 404.1 1029.7 L 407.3 1016.6 L 410.7 1003.6 L 414.4 990.7 L 418.3 977.8 L 422.4 965.0 L 426.7 952.2 L 431.3 939.6 L 436.1 927.0 L 441.1 914.5 L 446.3 902.1 L 451.7 889.7 L 457.4 877.5 L 463.3 865.4 L 469.4 853.3 L 475.7 841.4 L 482.2 829.6 L 488.9 817.9 L 495.8 806.3 L 502.9 794.8 L 510.2 783.4 L 517.7 772.2 L 525.4 761.1 L 533.3 750.2 L 541.4 739.3 L 549.6 728.6 L 558.1 718.1 L 566.7 707.7 L 575.6 697.4 L 584.6 687.3 L 593.7 677.3 L 603.1 667.5 L 612.6 657.9 L 622.3 648.4 L 632.1 639.1 L 642.1 630.0 L 652.3 621.0 L 662.6 612.2 L 673.1 603.6 L 683.7 595.2 L 694.5 586.9 L 705.4 578.9 L 716.5 571.0 L 727.7 563.3 L 739.0 555.8 L 750.5 548.5 L 762.1 541.4 L 773.8 534.5 L 785.7 527.8 L 797.6 521.3 L 809.7 515.0 L 821.9 508.9 L 834.2 503.1 L 846.6 497.4 L 859.1 492.0 L 871.7 486.8 L 884.4 481.8 L 897.2 477.1 L 910.0 472.5 L 923.0 468.2 L 936.0 464.1 L 949.1 460.3 L 962.3 456.7 L 975.5 453.3 L 988.8 450.1 L 1002.1 447.2 L 1015.5 444.5 L 1029.0 442.1 L 1042.5 439.9 L 1056.0 437.9 L 1069.6 436.2 L 1083.2 434.7 L 1096.8 433.5 L 1110.5 432.5 L 1124.2 431.7 L 1137.8 431.2 L 1151.5 430.9 L 1165.2 430.9 L 1178.9 431.1 L 1192.6 431.6 L 1206.3 432.3 L 1220.0 433.2 L 1233.7 434.4 L 1247.3 435.9 L 1260.9 437.5 L 1274.5 439.5 L 1288.0 441.6 L 1301.5 444.0 L 1315.0 446.6 L 1328.4 449.5 L 1341.8 452.6 L 1355.1 456.0 L 1368.3 459.5 L 1381.5 463.3 L 1394.6 467.4 L 1407.7 471.6 L 1420.7 476.1 L 1433.6 480.8 L 1446.4 485.8 L 1459.1 490.9 L 1471.8 496.3 L 1484.3 501.9 L 1496.7 507.7 L 1509.1 513.8 L 1521.3 520.0 L 1533.5 526.5 L 1545.5 533.1 L 1557.4 540.0 L 1569.2 547.1 L 1580.9 554.4 L 1592.4 561.8 L 1603.8 569.5 L 1615.1 577.4 L 1626.3 585.4 L 1637.3 593.7 L 1648.2 602.1 L 1658.9 610.8 L 1669.5 619.6 L 1679.9 628.6 L 1690.2 637.7 L 1700.3 647.1 L 1710.3 656.6 L 1720.1 666.3 L 1729.8 676.2 L 1739.3 686.2 L 1748.6 696.4 L 1757.7 706.7 L 1766.7 717.2 L 1775.5 727.9 L 1784.1 738.7 L 1792.5 749.7 L 1800.7 760.8 L 1808.7 772.1 L 1816.6 783.4 L 1824.3 795.0 L 1831.7 806.6 L 1839.0 818.4 L 1846.0 830.4 L 1852.9 842.4 L 1859.5 854.6 L 1865.9 866.9 L 1872.2 879.3 L 1878.2 891.8 L 1883.9 904.4 L 1889.5 917.2 L 1894.8 930.0 L 1900.0 942.9 L 1904.9 955.9 L 1909.5 969.0 L 1913.9 982.2 L 1918.1 995.5 L 1922.1 1008.8 L 1925.8 1022.3 L 1929.3 1035.8 L 1932.6 1049.3 L 1935.6 1062.9 L 1938.3 1076.6 L 1940.9 1090.3 L 1943.1 1104.1 L 1945.2 1117.9 L 1947.0 1131.7 L 1948.5 1145.6 L 1949.8 1159.5 L 1950.8 1173.5 L 1951.6 1187.4 L 1952.2 1201.4 L 1952.5 1215.4 L 1952.5 1229.3 L 1952.3 1243.3 L 1951.8 1257.3 L 1951.1 1271.3 L 1950.1 1285.3 L 1948.9 1299.2 L 1947.5 1313.1 L 1945.8 1327.0 L 1943.8 1340.9 L 1941.6 1354.7 L 1939.2 1368.5 L 1936.5 1382.3 L 1933.5 1396.0 L 1930.3 1409.6 L 1926.9 1423.2 L 1923.3 1436.8 L 1919.4 1450.2 L 1915.2 1463.6 L 1910.8 1476.9 L 1906.2 1490.2 L 1901.4 1503.4 L 1896.3 1516.4 L 1891.0 1529.4 L 1885.5 1542.3 L 1879.8 1555.1 L 1873.8 1567.8 L 1867.6 1580.4 L 1861.2 1592.9 L 1854.6 1605.3 L 1847.7 1617.6 L 1840.7 1629.7 L 1833.4 1641.8 L 1826.0 1653.7 L 1818.3 1665.4 L 1810.4 1677.1 L 1802.4 1688.6 L 1794.1 1700.0 L 1785.6 1711.2 L 1777.0 1722.3 L 1768.1 1733.2 L 1759.1 1744.0 L 1749.9 1754.6 L 1740.5 1765.1 L 1731.0 1775.5 L 1721.2 1785.6 L 1711.3 1795.6 L 1701.3 1805.5 L 1691.0 1815.2 L 1680.6 1824.7 L 1670.1 1834.0 L 1659.3 1843.2 L 1648.5 1852.2 L 1637.4 1861.0 L 1626.2 1869.6 L 1614.9 1878.0 L 1603.4 1886.2 L 1591.8 1894.3 L 1580.0 1902.1 L 1568.1 1909.8 L 1556.1 1917.2 L 1543.9 1924.4 L 1531.7 1931.5 L 1519.2 1938.3 L 1506.7 1944.9 L 1494.1 1951.3 L 1481.3 1957.5 L 1468.4 1963.4 L 1455.4 1969.1 L 1442.4 1974.7 L 1429.2 1979.9 L 1415.9 1985.0 L 1402.5 1989.8 L 1389.1 1994.4 L 1375.5 1998.8 L 1361.9 2002.9 L 1348.2 2006.7 L 1334.4 2010.4 L 1320.6 2013.8 L 1306.7 2016.9 L 1292.7 2019.8 L 1278.7 2022.5 L 1264.7 2024.9 L 1250.6 2027.1 L 1236.4 2029.0 L 1222.2 2030.6 L 1208.0 2032.0 L 1193.8 2033.2 L 1179.5 2034.1 L 1165.2 2034.7 L 1150.9 2035.1 L 1136.6 2035.3 L 1122.3 2035.1 L 1108.0 2034.7 L 1093.7 2034.1 L 1079.4 2033.2 L 1065.1 2032.1 L 1050.9 2030.7 L 1036.6 2029.0 L 1022.4 2027.1 L 1008.3 2024.9 L 994.1 2022.5 L 980.0 2019.8 L 966.0 2016.9 L 952.0 2013.7 L 938.1 2010.2 L 924.2 2006.6 L 910.4 2002.6 L 896.6 1998.5 L 883.0 1994.0 L 869.4 1989.4 L 855.9 1984.5 L 842.5 1979.3 L 829.1 1974.0 L 815.9 1968.4 L 802.8 1962.5 L 789.7 1956.4 L 776.8 1950.1 L 764.0 1943.6 L 751.3 1936.8 L 738.7 1929.9 L 726.3 1922.7 L 713.9 1915.2 L 701.7 1907.6 L 689.7 1899.8 L 677.7 1891.7 L 666.0 1883.4 L 654.3 1875.0 L 642.8 1866.3 L 631.5 1857.4 L 620.3 1848.4 L 609.2 1839.1 L 598.3 1829.7 L 587.6 1820.0 L 577.1 1810.2 L 566.7 1800.2 L 556.5 1790.0 L 546.5 1779.7 L 536.6 1769.1 L 526.9 1758.4 L 517.5 1747.6 L 508.1 1736.5 L 499.0 1725.3 L 490.1 1714.0 L 481.4 1702.5 L 472.9 1690.8 L 464.5 1679.0 L 456.4 1667.1 L 448.5 1655.0 L 440.8 1642.7 L 433.3 1630.4 L 426.0 1617.9 L 419.0 1605.2 L 412.1 1592.5 L 405.5 1579.6 L 399.1 1566.6 L 392.9 1553.5 L 387.0 1540.3 L 381.3 1527.0 L 375.8 1513.6 L 370.5 1500.1 L 365.5 1486.5 L 360.7 1472.8 L 356.2 1459.0 L 351.9 1445.2 L 347.9 1431.2 L 344.1 1417.2 L 340.5 1403.2 L 337.2 1389.0 L 334.1 1374.8 L 331.3 1360.6 L 328.8 1346.3 L 326.5 1331.9 L 324.4 1317.5 L 322.6 1303.1 L 321.1 1288.6 L 319.8 1274.2 L 318.8 1259.6 L 318.0 1245.1 L 317.5 1230.6 L 317.3 1216.0 L 317.3 1201.5 L 317.6 1186.9 L 318.1 1172.4 L 318.9 1157.8 L 320.0 1143.3 L 321.3 1128.8 L 322.9 1114.3 L 324.7 1099.9 L 326.8 1085.4 L 329.1 1071.0 L 331.7 1056.7 L 334.6 1042.4 L 337.6 1028.2 L 341.0 1014.0 L 344.6 999.8 L 348.4 985.8 L 352.5 971.8 L 356.8 957.9 L 361.4 944.0 L 366.2 930.2 L 371.2 916.5 L 376.5 902.9 L 382.0 889.4 L 387.7 876.0 L 393.7 862.7 L 399.9 849.5 L 406.3 836.4 L 413.0 823.4 L 419.9 810.5 L 426.9 797.7 L 434.2 785.1 L 441.8 772.5 L 449.5 760.1 L 457.4 747.9 L 465.6 735.7 L 473.9 723.7 L 482.5 711.9 L 491.2 700.1 L 500.1 688.5 L 509.3 677.1 L 518.6 665.8 L 528.1 654.7 L 537.8 643.7 L 547.7 632.9 L 557.8 622.2 L 568.0 611.7 L 578.4 601.4 L 589.0 591.3 L 599.8 581.3 L 610.7 571.5 L 621.9 561.9 L 633.1 552.5 L 644.6 543.2 L 656.2 534.2 L 668.0 525.3 L 679.9 516.7 L 692.0 508.2 L 704.2 500.0 L 716.6 492.0 L 729.1 484.2 L 741.7 476.6 L 754.5 469.2 L 767.5 462.1 L 780.5 455.2 L 793.7 448.5 L 807.0 442.0 L 820.4 435.8 L 834.0 429.9 L 847.7 424.2 L 861.4 418.7 L 875.3 413.5 L 889.2 408.5 L 903.3 403.8 L 917.4 399.4 L 931.7 395.2 L 946.0 391.2 L 960.4 387.6 L 974.8 384.2 L 989.3 381.1 L 1003.9 378.2 L 1018.5 375.6 L 1033.2 373.3 L 1047.9 371.3 L 1062.6 369.5 L 1077.4 368.1 L 1092.2 366.8 L 1107.0 365.9 L 1121.9 365.3 L 1136.7 364.9 L 1151.6 364.8 L 1166.4 365.0 L 1181.3 365.5 L 1196.1 366.2 L 1210.9 367.3 L 1225.7 368.5 L 1240.4 370.1 L 1255.2 371.9 L 1269.8 374.0 L 1284.5 376.4 L 1299.1 379.0 L 1313.6 381.9 L 1328.1 385.0 L 1342.5 388.4 L 1356.9 392.1 L 1371.2 396.0 L 1385.4 400.2 L 1399.5 404.5 L 1413.6 409.2 L 1427.5 414.1 L 1441.4 419.2 L 1455.2 424.5 L 1468.9 430.1 L 1482.5 435.9 L 1496.0 441.9 L 1509.4 448.1 L 1522.7 454.6 L 1535.9 461.3 L 1548.9 468.1 L 1561.9 475.2 L 1574.7 482.5 L 1587.5 490.0 L 1600.1 497.7 L 1612.5 505.6 L 1624.9 513.7 L 1637.1 522.0 L 1649.2 530.5 L 1661.2 539.1 L 1673.0 548.0 L 1684.7 557.0 L 1696.3 566.3 L 1707.7 575.7 L 1718.9 585.3 L 1730.1 595.0 L 1741.0 605.0 L 1751.8 615.1 L 1762.5 625.4 L 1773.0 635.9 L 1783.3 646.5 L 1793.5 657.3 L 1803.5 668.3 L 1813.4 679.4 L 1823.0 690.7 L 1832.5 702.2 L 1841.8 713.9 L 1850.9 725.7 L 1859.8 737.6 L 1868.5 749.7 L 1877.0 762.0 L 1885.3 774.4 L 1893.4 787.0 L 1901.3 799.7 L 1909.0 812.6 L 1916.4 825.6 L 1923.7 838.7 L 1930.7 852.0 L 1937.4 865.4 L 1943.9 878.9 L 1950.2 892.6 L 1956.2 906.4 L 1962.0 920.3 L 1967.5 934.3 L 1972.8 948.5 L 1977.8 962.7 L 1982.5 977.0 L 1986.9 991.4 L 1991.1 1006.0 L 1995.0 1020.6 L 1998.6 1035.2 L 2002.0 1050.0 L 2005.0 1064.8 L 2007.8 1079.7 L 2010.2 1094.6 L 2012.4 1109.6 L 2014.2 1124.6 L 2015.8 1139.7 L 2017.0 1154.8 L 2017.9 1169.9 L 2018.6 1185.0 L 2018.9 1200.2 L 2018.9 1211.8" fill="none" stroke="#45c3ec" stroke-width="1.4" stroke-linejoin="round"/>
<circle cx="1066" cy="1070.5" r="12.9" fill="none" stroke="#45c3ec" stroke-width="1.4"/>
<circle cx="1230.3" cy="1070.5" r="12.9" fill="none" stroke="#45c3ec" stroke-width="1.4"/>
<circle cx="984" cy="1212.5" r="12.9" fill="none" stroke="#45c3ec" stroke-width="1.4"/>
<circle cx="1312.4" cy="1212.4" r="12.9" fill="none" stroke="#45c3ec" stroke-width="1.4"/>
<circle cx="1066.1" cy="1354.6" r="12.9" fill="none" stroke="#45c3ec" stroke-width="1.4"/>
<circle cx="1230.4" cy="1354.6" r="12.9" fill="none" stroke="#45c3ec" stroke-width="1.4"/>
<circle cx="1148.2" cy="1212.4" r="44" fill="none" stroke="#92d050" stroke-width="1.4"/>
<circle cx="1147.3" cy="1212.1" r="7.6" fill="none" stroke="#92d050" stroke-width="1.6"/>
<line x1="1952.6" y1="1211.8" x2="2019.2" y2="1211.8" stroke="#222" stroke-width="2"/>
<line x1="1951.8" y1="1312" x2="1951.8" y2="1425" stroke="#000" stroke-width="2"/>
<line x1="2016" y1="1312" x2="2016" y2="1425" stroke="#156082" stroke-width="2"/>
<line x1="1973" y1="1406" x2="1995" y2="1406" stroke="#156082" stroke-width="2"/>
<polygon points="1951.8,1406.0 1973.8,1394.4 1973.8,1417.6" fill="#156082"/>
<polygon points="2015.7,1406.0 1994.2,1394.4 1994.2,1417.6" fill="#156082"/>
<line x1="305" y1="142" x2="2020" y2="142" stroke="#156082" stroke-width="2"/>
<polygon points="304.7,142.0 327.7,130.2 327.7,153.8" fill="#156082"/>
<polygon points="2021.4,142.0 1998.4,130.2 1998.4,153.8" fill="#156082"/>
<line x1="303" y1="120" x2="303" y2="1027" stroke="#156082" stroke-width="2"/>
<line x1="2022" y1="121" x2="2024.8" y2="1026" stroke="#156082" stroke-width="2"/>
<line x1="305" y1="287" x2="1141" y2="287" stroke="#156082" stroke-width="2"/>
<polygon points="304.5,287.0 327.5,275.2 327.5,298.8" fill="#156082"/>
<polygon points="1142.5,287.0 1119.5,275.2 1119.5,298.8" fill="#156082"/>
<line x1="1150" y1="288" x2="2019" y2="288" stroke="#156082" stroke-width="2"/>
<polygon points="1148.5,288.0 1171.5,276.2 1171.5,299.8" fill="#156082"/>
<polygon points="2020.4,288.0 1997.4,276.2 1997.4,299.8" fill="#156082"/>
<line x1="1146" y1="276" x2="1146" y2="355.3" stroke="#156082" stroke-width="2"/>
<line x1="98" y1="354" x2="982.3" y2="354" stroke="#156082" stroke-width="2"/>
<line x1="98" y1="2030" x2="982.3" y2="2030" stroke="#156082" stroke-width="2"/>
<line x1="126" y1="356" x2="126" y2="2028" stroke="#156082" stroke-width="2"/>
<polygon points="126.0,355.1 114.2,378.1 137.8,378.1" fill="#156082"/>
<polygon points="126.0,2029.0 114.2,2006.0 137.8,2006.0" fill="#156082"/>
<line x1="260" y1="354" x2="260" y2="1207" stroke="#156082" stroke-width="2"/>
<polygon points="260.0,353.0 248.2,376.0 271.8,376.0" fill="#156082"/>
<polygon points="260.0,1208.1 248.2,1185.1 271.8,1185.1" fill="#156082"/>
<line x1="260" y1="1212" x2="260" y2="2026.5" stroke="#156082" stroke-width="2"/>
<polygon points="260.0,1211.0 248.2,1234.0 271.8,1234.0" fill="#156082"/>
<polygon points="260.0,2027.7 248.2,2004.7 271.8,2004.7" fill="#156082"/>
<line x1="246.1" y1="1210" x2="302.9" y2="1210" stroke="#156082" stroke-width="2"/>
<line x1="257" y1="802" x2="257" y2="860" stroke="#000" stroke-width="2"/>
<line x1="1147" y1="759" x2="1147" y2="1208" stroke="#156082" stroke-width="2"/>
<polygon points="1147.0,757.6 1135.2,780.6 1158.8,780.6" fill="#156082"/>
<polygon points="1147.0,1209.2 1135.2,1186.2 1158.8,1186.2" fill="#156082"/>
<line x1="1147.8" y1="1214" x2="1147.8" y2="1697" stroke="#156082" stroke-width="2"/>
<polygon points="1147.8,1213.3 1136.0,1236.3 1159.6,1236.3" fill="#156082"/>
<polygon points="1147.8,1698.5 1136.0,1675.5 1159.6,1675.5" fill="#156082"/>
<line x1="649" y1="1212" x2="1144.5" y2="1212" stroke="#156082" stroke-width="2"/>
<polygon points="648.0,1212.0 671.0,1200.2 671.0,1223.8" fill="#156082"/>
<polygon points="1145.8,1212.0 1122.8,1200.2 1122.8,1223.8" fill="#156082"/>
<line x1="1150" y1="1212" x2="1611.5" y2="1212" stroke="#156082" stroke-width="2"/>
<polygon points="1148.9,1212.0 1171.9,1200.2 1171.9,1223.8" fill="#156082"/>
<polygon points="1612.5,1212.0 1589.5,1200.2 1589.5,1223.8" fill="#156082"/>
<text transform="translate(1135.48 62.2) scale(1.0641 1)" text-anchor="middle" font-size="45.5">386mm</text>
<text transform="translate(1135.5 122.1) scale(1.063 1)" text-anchor="middle" font-size="45.5">(15.2”)</text>
<text transform="translate(695.23 206.2) scale(1.0563 1)" text-anchor="middle" font-size="45.5">188mm</text>
<text transform="translate(695.83 265.7) scale(1.0725 1)" text-anchor="middle" font-size="45.5">(7.4”)</text>
<text transform="translate(1593.49 203.8) scale(1.059 1)" text-anchor="middle" font-size="45.5">198mm</text>
<text transform="translate(1593.33 264.0) scale(1.0716 1)" text-anchor="middle" font-size="45.5">(7.8”)</text>
<text transform="translate(915.58 1195.9) scale(1.0886 1)" text-anchor="middle" font-size="45.5">113mm</text>
<text transform="translate(915.83 1264) scale(1.0725 1)" text-anchor="middle" font-size="45.5">(4.4”)</text>
<text transform="translate(1347.79 1195.9) scale(1.0583 1)" text-anchor="middle" font-size="45.5">108mm</text>
<text transform="translate(1346.91 1264) scale(1.0716 1)" text-anchor="middle" font-size="45.5">(4.3”)</text>
<text transform="translate(1988.12 1500.1) scale(1.0655 1)" text-anchor="middle" font-size="45.5">15mm</text>
<text transform="translate(1987.07 1560.5) scale(1.0755 1)" text-anchor="middle" font-size="45.5">(0.6”)</text>
<text transform="translate(1923.43 2014) scale(1.0371 1)" text-anchor="middle" font-size="45.5">Medium Spiral</text>
<text transform="translate(1128.4 1024.01) rotate(-90) scale(1.0462 1)" text-anchor="middle" font-size="45.5">102mm</text>
<text transform="translate(1196.3 1024.12) rotate(-90) scale(1.066 1)" text-anchor="middle" font-size="45.5">(4.0”)</text>
<text transform="translate(1127.9 1422.14) rotate(-90) scale(1.0711 1)" text-anchor="middle" font-size="45.5">112mm</text>
<text transform="translate(1196 1422.12) rotate(-90) scale(1.0738 1)" text-anchor="middle" font-size="45.5">(4.4”)</text>
<text transform="translate(51.9 1202.22) rotate(-90) scale(1.0442 1)" text-anchor="middle" font-size="45.5">379mm</text>
<text transform="translate(112.3 1202.02) rotate(-90) scale(1.0648 1)" text-anchor="middle" font-size="45.5">(14.9”)</text>
<text transform="translate(182.6 696.11) rotate(-90) scale(1.0448 1)" text-anchor="middle" font-size="45.5">192.5mm</text>
<text transform="translate(242.1 697.74) rotate(-90) scale(1.0873 1)" text-anchor="middle" font-size="45.5">(7.6”)</text>
<text transform="translate(184.1 1617.7) rotate(-90) scale(1.0448 1)" text-anchor="middle" font-size="45.5">186.5mm</text>
<text transform="translate(244.4 1619.74) rotate(-90) scale(1.0814 1)" text-anchor="middle" font-size="45.5">(7.3”)</text>
</svg>
</body></html>
